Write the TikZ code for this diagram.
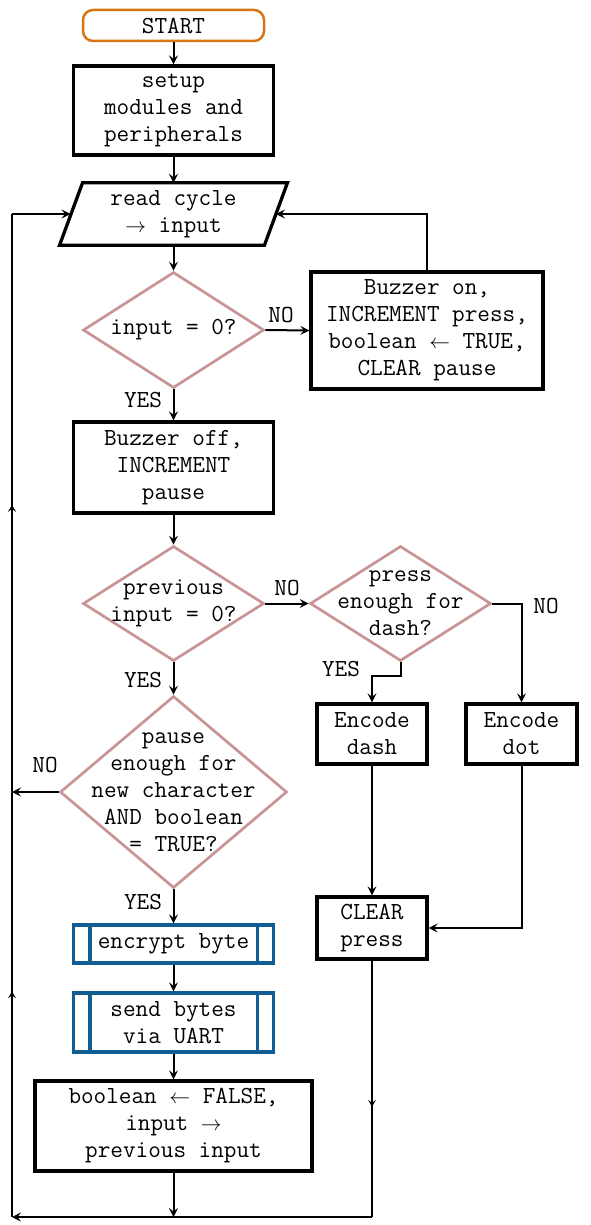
\documentclass[tikz,border=0pt]{standalone}
\usepackage{fontspec}
\usetikzlibrary{shapes.geometric,arrows.meta,decorations.markings,calc}
\definecolor{startc}{RGB}{214,118,20}
\definecolor{decc}{RGB}{201,148,150}
\definecolor{subc}{RGB}{16,94,148}
\newcommand{\ra}{{\fontsize{21}{27}\selectfont$\rightarrow$}}
\newcommand{\la}{{\fontsize{21}{27}\selectfont$\leftarrow$}}
\begin{document}
\begin{tikzpicture}[x=1pt,y=-1pt,
  every node/.style={font=\ttfamily\fontsize{24.5}{27}\selectfont, align=center, inner sep=0pt},
  proc/.style={draw=black, line width=3.3pt, rectangle},
  term/.style={draw=startc, line width=2.5pt, rounded corners=10pt, rectangle},
  dec/.style={draw=decc, line width=2.7pt, diamond, inner sep=0pt},
  sub/.style={draw=subc, line width=3.3pt, rectangle},
  conn/.style={line width=2pt, -{Stealth[length=9pt,width=9pt,inset=3.5pt]}},
  plain/.style={line width=2pt},
  lbl/.style={font=\ttfamily\fontsize{24.5}{27}\selectfont},
  midarrow/.style={postaction={decorate}, decoration={markings,
     mark=at position #1 with {\arrow{Stealth[length=7pt,width=8pt,inset=3pt]}}}},
  twoarrows/.style 2 args={postaction={decorate}, decoration={markings,
     mark=at position #1 with {\arrow{Stealth[length=7pt,width=8pt,inset=3pt]}},
     mark=at position #2 with {\arrow{Stealth[length=7pt,width=8pt,inset=3pt]}}}}
]
\useasboundingbox (0,0) rectangle (590,1225);

% nodes
\node[term, minimum width=181pt, minimum height=31pt] (start) at (173.5,25.5) {START};
\node[proc, minimum width=200pt, minimum height=89pt] (setup) at (173.5,110.5) {setup\\modules and\\peripherals};
\node[minimum width=204.5pt, minimum height=62pt] (rd) at (173.5,214) {read cycle\\\ra{} input};
\draw[line width=3.3pt] ($(rd.north west)+(11.5,0)$) -- ($(rd.north east)+(11.5,0)$)
   -- ($(rd.south east)+(-11.5,0)$) -- ($(rd.south west)+(-11.5,0)$) -- cycle;

\node[dec, minimum width=181pt, minimum height=116pt,
      label={center:{input = 0?}}] (d1) at (173.5,330) {};
\node[proc, minimum width=232pt, minimum height=117pt] (bon) at (427,330.5)
   {Buzzer on,\\INCREMENT press,\\boolean \la{} TRUE,\\CLEAR pause};
\node[proc, minimum width=200pt, minimum height=91pt] (boff) at (173.5,467.5)
   {Buzzer off,\\INCREMENT\\pause};
\node[dec, minimum width=181pt, minimum height=115pt,
      label={center:{previous\\input = 0?}}] (d2) at (173.5,603.5) {};
\node[dec, minimum width=181pt, minimum height=115pt,
      label={center:{press\\enough for\\dash?}}] (d3) at (400.5,603.5) {};
\node[proc, minimum width=110pt, minimum height=60pt] (ed) at (372,734) {Encode\\dash};
\node[proc, minimum width=111pt, minimum height=60pt] (edt) at (521.5,734) {Encode\\dot};
\node[dec, minimum width=227pt, minimum height=192pt,
      label={center:{pause\\enough for\\new character\\AND boolean\\= TRUE?}}] (d4) at (173.5,792) {};
\node[proc, minimum width=110pt, minimum height=62pt] (clr) at (372,928) {CLEAR\\press};
\node[sub, minimum width=200pt, minimum height=38pt] (enc) at (173.5,944) {encrypt byte};
\draw[subc, line width=3.3pt] ([xshift=18pt]enc.north west) -- ([xshift=18pt]enc.south west)
   ([xshift=-18pt]enc.north east) -- ([xshift=-18pt]enc.south east);
\node[sub, minimum width=200pt, minimum height=59pt] (snd) at (173.5,1022.5) {send bytes\\via UART};
\draw[subc, line width=3.3pt] ([xshift=18pt]snd.north west) -- ([xshift=18pt]snd.south west)
   ([xshift=-18pt]snd.north east) -- ([xshift=-18pt]snd.south east);
\node[proc, minimum width=277pt, minimum height=90pt] (bf) at (173.5,1126)
   {boolean \la{} FALSE,\\input \ra\\previous input};

\coordinate (bl) at (12,1217);

% labels
\node[lbl] (n1) at (281,315) {NO};
\node[lbl] (y1) at (143,400) {YES};
\node[lbl] (n2) at (287,588) {NO};
\node[lbl] (y3) at (341,669) {YES};
\node[lbl] (n3) at (546,606) {NO};
\node[lbl] (y2) at (143,680) {YES};
\node[lbl] (n4) at (45,765) {NO};
\node[lbl] (y4) at (143,902) {YES};

% connectors
\draw[conn] (start) -- (setup);
\draw[conn] (setup) -- (setup.south |- rd.north);
\draw[conn] (setup.south |- rd.south) -- (d1.north);
\draw[conn] (d1.east) -- (bon.west);
\draw[conn] (bon.north) |- (rd.east);
\draw[conn] (d1.south) -- (boff.north);
\draw[conn] (boff.south) -- (d2.north);
\draw[conn] (d2.east) -- (d3.west);
\draw[conn] (d3.south) -- ++(0,14) -| (ed.north);
\draw[conn] (d3.east) -| (edt.north);
\draw[conn] (d2.south) -- (d4.north);
\draw[conn] (d4.west) -- (d4.west -| bl);
\draw[conn] (d4.south) -- (enc.north);
\draw[conn] (enc.south) -- (snd.north);
\draw[conn] (snd.south) -- (bf.north);
\draw[conn] (bf.south) -- (bf.south |- bl);
\draw[conn] (ed.south) -- (clr.north);
\draw[conn] (edt.south) |- (clr.east);
\draw[plain, midarrow=0.57] (clr.south) -- (clr.south |- bl);
\draw[conn] (clr.south |- bl) -- (bl);
\draw[plain, twoarrows={0.225}{0.71}] (bl) -- (bl |- rd.west);
\draw[conn] (bl |- rd.west) -- ($(rd.west)+(-0.5,0)$);
\end{tikzpicture}
\end{document}
